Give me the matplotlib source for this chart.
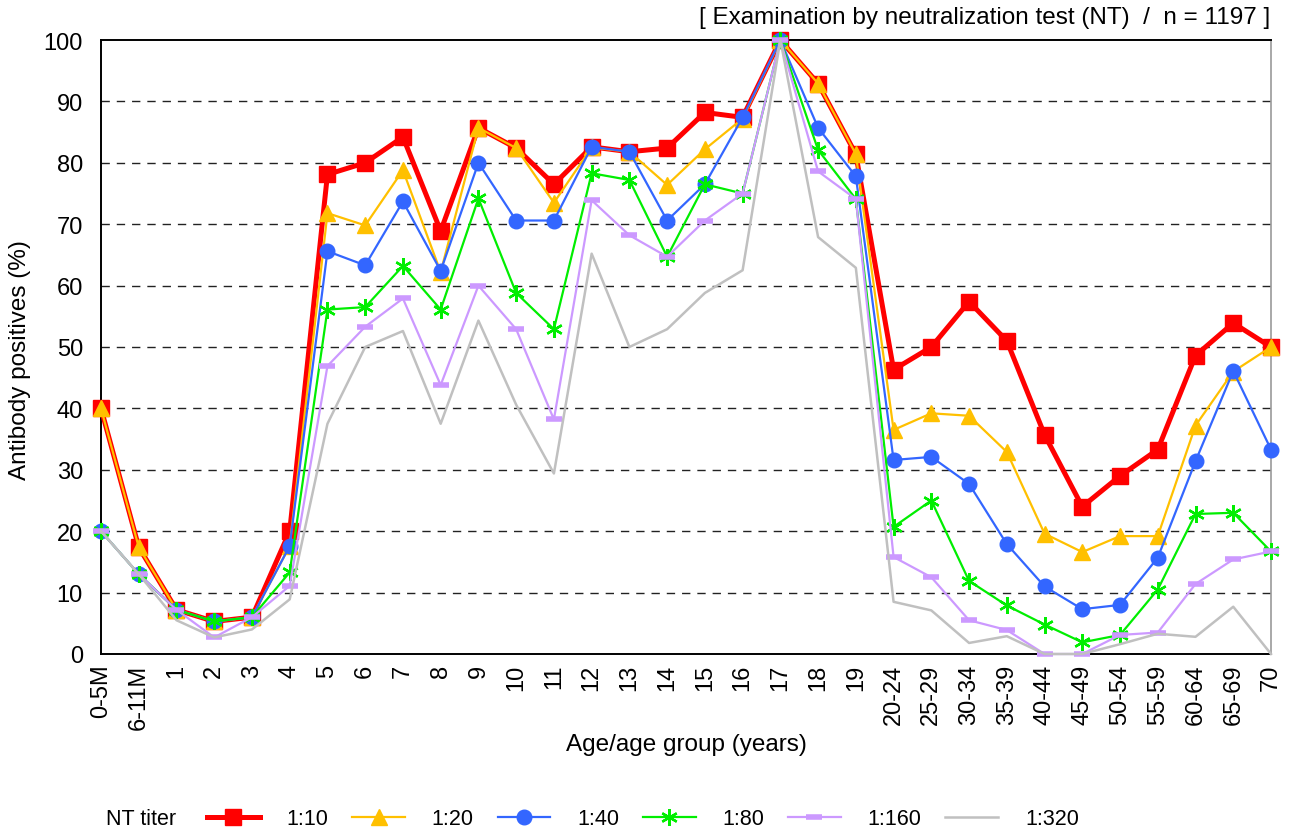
import matplotlib
matplotlib.use("Agg")
import matplotlib.pyplot as plt

plt.rcParams['font.family'] = ['Liberation Sans', 'DejaVu Sans']

categories = ["0-5M", "6-11M"] + [str(i) for i in range(1, 20)] + \
    ["20-24", "25-29", "30-34", "35-39", "40-44", "45-49", "50-54",
     "55-59", "60-64", "65-69", "70"]

t10 = [40, 17.4, 7.2, 5.3, 6.0, 20.0, 78.1, 80.0, 84.2, 68.9, 85.7, 82.4, 76.5, 82.6, 81.8, 82.4,
       88.2, 87.4, 100, 92.9, 81.4, 46.3, 50.0, 57.4, 51.0, 35.7, 24.0, 29.0, 33.3, 48.6, 53.9, 50.0]
t20 = [40, 17.4, 7.2, 5.3, 6.0, 17.6, 71.8, 69.8, 78.8, 62.2, 85.7, 82.4, 73.5, 82.5, 81.8, 76.4,
       82.2, 87.2, 100, 92.9, 81.4, 36.5, 39.2, 38.8, 32.9, 19.6, 16.6, 19.2, 19.2, 37.2, 46.0, 50.0]
t40 = [20, 13.0, 7.2, 5.3, 6.0, 17.6, 65.6, 63.3, 73.7, 62.4, 80.0, 70.6, 70.6, 82.6, 81.8, 70.6,
       76.5, 87.4, 100, 85.7, 77.8, 31.6, 32.1, 27.7, 17.9, 11.0, 7.3, 8.0, 15.7, 31.4, 46.1, 33.3]
t80 = [20, 13.0, 7.2, 5.3, 6.0, 13.3, 56.1, 56.5, 63.2, 56.1, 74.2, 58.8, 52.9, 78.3, 77.2, 64.7,
       76.5, 75.0, 100, 82.1, 74.1, 20.7, 25.0, 11.9, 7.9, 4.8, 1.9, 3.1, 10.5, 22.8, 23.0, 16.7]
t160 = [20, 13.0, 7.2, 2.7, 6.0, 11.1, 46.9, 53.3, 57.9, 43.8, 60.0, 52.9, 38.2, 73.9, 68.2, 64.7,
        70.6, 75.0, 100, 78.6, 74.1, 15.8, 12.5, 5.5, 3.9, 0, 0, 3.1, 3.5, 11.4, 15.4, 16.7]
t320 = [20, 13.0, 5.5, 2.7, 4.0, 8.9, 37.5, 50.0, 52.6, 37.5, 54.3, 40.6, 29.4, 65.2, 50.0, 52.9,
        58.8, 62.5, 100, 67.9, 62.9, 8.5, 7.1, 1.8, 2.9, 0, 0, 1.6, 3.3, 2.8, 7.7, 0]

x = list(range(len(categories)))

fig = plt.figure(figsize=(12.9, 8.37), dpi=100)
ax = fig.add_axes([101/1290, 1-655/837, 1170/1290, 614/837])

ax.plot(x, t10, color='#FF0000', lw=3.6, marker='s', ms=11, label='1:10', clip_on=False, zorder=3)
ax.plot(x, t20, color='#FFC000', lw=1.6, marker='^', ms=11.5, label='1:20', clip_on=False, zorder=4)
ax.plot(x, t40, color='#3366FF', lw=1.6, marker='o', ms=10.5, label='1:40', clip_on=False, zorder=5)
ax.plot(x, t80, color='#00EE00', lw=1.6, marker=(6, 2, 0), ms=12, mew=1.7, label='1:80',
        clip_on=False, zorder=6)
ax.plot(x, t160, color='#CC99FF', lw=1.6, marker='_', ms=11, mew=4, label='1:160',
        clip_on=False, zorder=7)
ax.plot(x, t320, color='#C0C0C0', lw=1.8, label='1:320', clip_on=False, zorder=8)

ax.set_xlim(0, len(categories) - 1)
ax.set_ylim(0, 100)
ax.set_yticks(range(0, 101, 10))
ax.set_xticks(x)
ax.set_xticklabels(categories, rotation=90)
ax.tick_params(axis='both', length=0, labelsize=17)
ax.tick_params(axis='y', pad=13)
ax.tick_params(axis='x', pad=7)

for v in range(10, 100, 10):
    ax.axhline(v, color='#222222', lw=1, ls=(0, (6, 5)), zorder=1)

for s in ['left', 'bottom', 'top']:
    ax.spines[s].set_linewidth(1.4)
    ax.spines[s].set_color('black')
ax.spines['right'].set_color('#999999')
ax.spines['right'].set_linewidth(1.2)

ax.set_xlabel('Age/age group (years)', fontsize=17.5)
ax.xaxis.label.set_va('center')
ax.xaxis.set_label_coords(0.5, -0.147)
ax.set_ylabel('Antibody positives (%)', fontsize=17.5)
ax.yaxis.label.set_va('center')
ax.yaxis.set_label_coords(-0.069, 0.48)

fig.text(1270/1290, 1-18/837, '[ Examination by neutralization test (NT)  /  n = 1197 ]',
         ha='right', va='center', fontsize=17.5)

# legend row at the bottom
fig.text(106/1290, 1-820/837, 'NT titer', ha='left', va='center', fontsize=15.5)
handles, labels = ax.get_legend_handles_labels()
fig.legend(handles, labels, ncol=6, frameon=False, loc='center left',
           bbox_to_anchor=(207/1290, 1-820/837), fontsize=15.5,
           borderpad=0, borderaxespad=0,
           handlelength=2.45, handletextpad=1.25, columnspacing=1.1)

fig.savefig('out.png', dpi=100)
